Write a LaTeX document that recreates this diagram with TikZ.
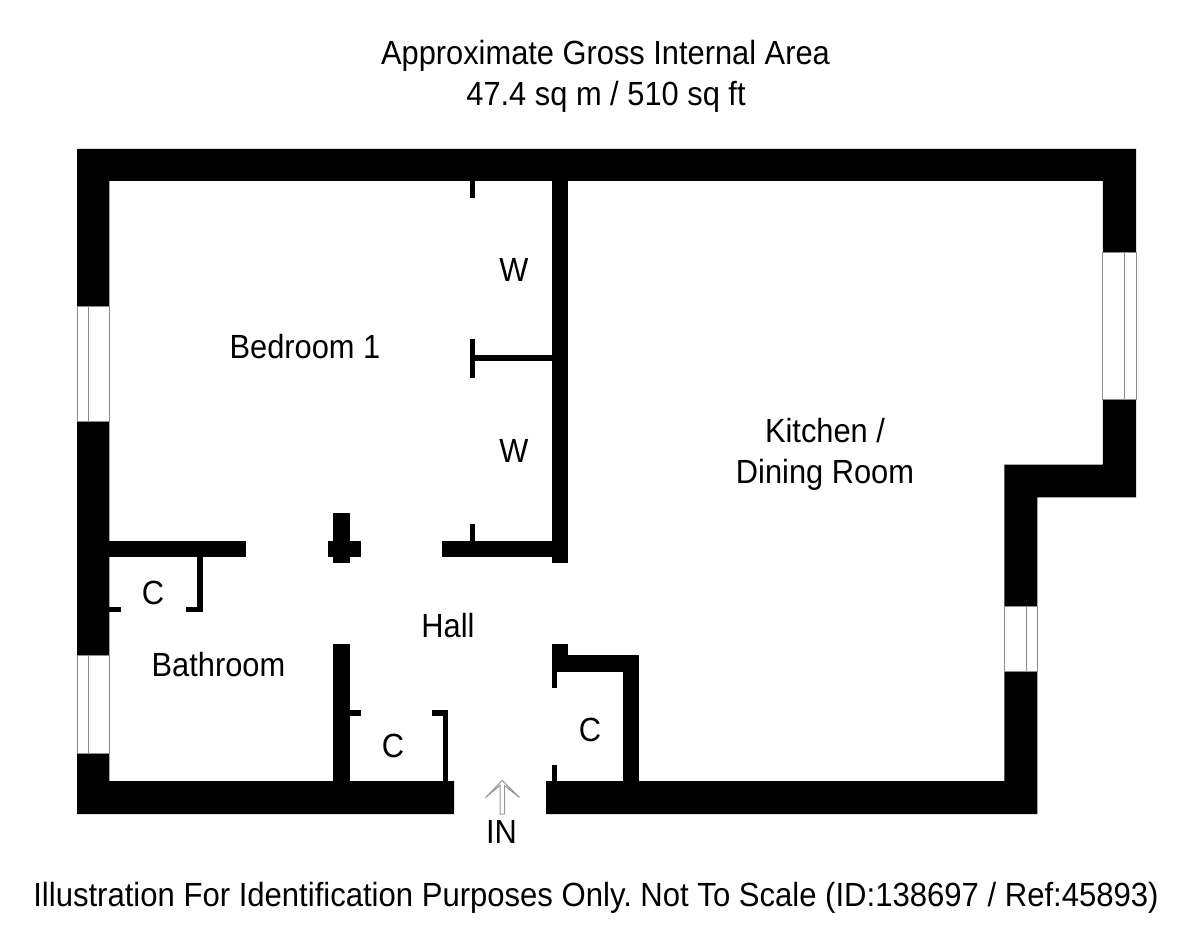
\documentclass[tikz,border=0pt]{standalone}
\usepackage{fontspec}
\setmainfont{Liberation Sans}
\frenchspacing
\tikzset{
  wall/.style={fill=black,draw=none},
  winframe/.style={draw=black!45,line width=0.9pt,fill=white},
  mull/.style={draw=black!45,line width=0.9pt},
  label/.style={inner sep=0pt,anchor=base,font=\fontsize{33.5}{33.5}\selectfont,xscale=0.92},
}
\begin{document}
\begin{tikzpicture}[x=1pt,y=-1pt]
\useasboundingbox (0,0) rectangle (1200,925);
% outer walls
\fill[wall] (77,149) -- (1136,149) -- (1136,497.3) -- (1037.4,497.3) -- (1037.4,814) -- (546,814) -- (546,781)
 -- (1004.3,781) -- (1004.3,464.5) -- (1102.8,464.5) -- (1102.8,181) -- (109.4,181) -- (109.4,781) -- (454,781) -- (454,814) -- (77,814) -- cycle;
% windows
\draw[winframe] (77,306.7) rectangle (109.4,421);
\draw[mull] (88,306.7) -- (88,421);
\draw[winframe] (77,655.4) rectangle (109.4,753.6);
\draw[mull] (88,655.4) -- (88,753.6);
\draw[winframe] (1102.8,252.3) rectangle (1136,399.3);
\draw[mull] (1124.7,252.3) -- (1124.7,399.3);
\draw[winframe] (1004.3,606.3) rectangle (1037.4,671.4);
\draw[mull] (1026.7,606.3) -- (1026.7,671.4);
% interior
\fill[wall] (109,540.8) rectangle (246,557.4);
\fill[wall] (333.4,513.3) rectangle (350,562.7);
\fill[wall] (327.8,540.8) rectangle (360.8,557.4);
\fill[wall] (442.4,540.8) rectangle (552,557.4);
\fill[wall] (551.8,181) rectangle (568.3,562.7);
\fill[wall] (469.6,524) rectangle (475.4,541);
\fill[wall] (469.6,181) rectangle (475.4,197.7);
\fill[wall] (469.6,339.3) rectangle (475.4,378);
\fill[wall] (475,355.3) rectangle (552,361.3);
\fill[wall] (197.3,557) rectangle (202.7,612);
\fill[wall] (186,606.7) rectangle (202.7,612);
\fill[wall] (109,606.7) rectangle (120.7,612);
\fill[wall] (333.4,644.4) rectangle (350,781);
\fill[wall] (350,710.3) rectangle (360.8,715.7);
\fill[wall] (442.7,710.3) rectangle (448,781);
\fill[wall] (431.7,710.3) rectangle (448,715.7);
\fill[wall] (551.8,644.4) rectangle (557.3,688.3);
\fill[wall] (551.8,644.4) rectangle (568.3,660);
\fill[wall] (551.8,655.3) rectangle (639.3,672);
\fill[wall] (622.7,655.3) rectangle (639.3,781.5);
\fill[wall] (551.8,765) rectangle (557.3,781.5);
% arrow
\coordinate (tip) at (502.3,780.5);
\draw[draw=black!40,line width=1pt,fill=white,line join=miter] (tip) -- (519.3,797.5) -- (504.6,785.5) -- (504.6,814) -- (500,814) -- (500,785.5) -- (485.5,797.5) -- cycle;
% labels
\node[label] (t1) at (605.5,65) {Approximate Gross Internal Area};
\node[label] (t2) at (606,106) {47.4 sq m / 510 sq ft};
\node[label] (bed) at (305,359) {Bedroom 1};
\node[label] (w1) at (514,282) {W};
\node[label] (w2) at (514,462) {W};
\node[label] (k1) at (825,442) {Kitchen /};
\node[label] (k2) at (825,483) {Dining Room};
\node[label] (hall) at (448,637) {Hall};
\node[label] (bath) at (218.5,676) {Bathroom};
\node[label] (c1) at (153,604) {C};
\node[label] (c2) at (393,757) {C};
\node[label] (c3) at (590,741) {C};
\node[label] (in) at (501.5,843) {IN};
\node[label,xscale=1.008] (foot) at (596,906) {Illustration For Identification Purposes Only. Not To Scale (ID:138697 / Ref:45893)};
\end{tikzpicture}
\end{document}
